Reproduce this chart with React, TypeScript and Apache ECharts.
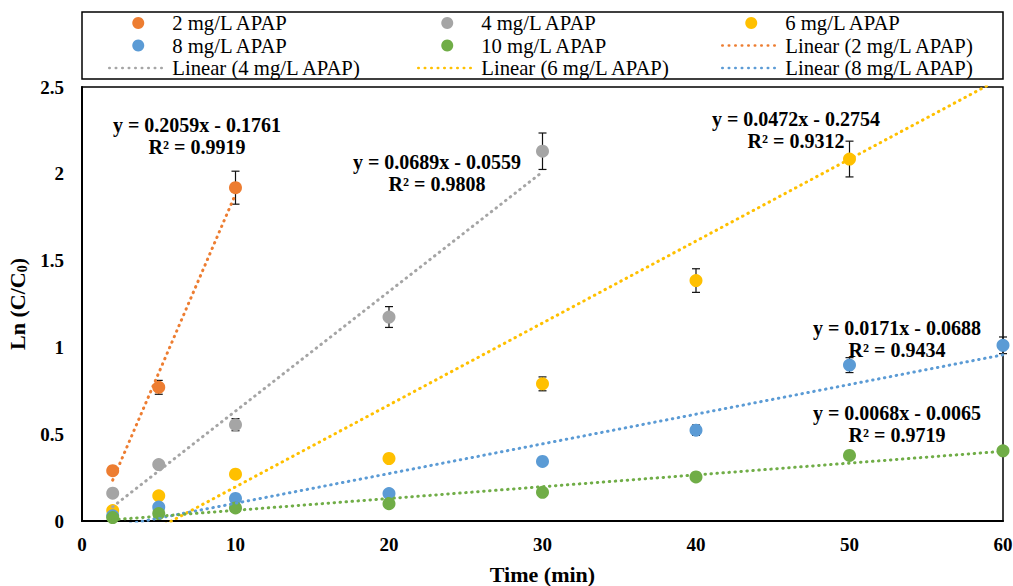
import React, { useEffect, useRef } from "react";
import * as echarts from "echarts";

// Concentration groups, colours (Excel palette)
const seriesNames = ["2 mg/L APAP", "4 mg/L APAP", "6 mg/L APAP", "8 mg/L APAP", "10 mg/L APAP"];
const colors = ["#ED7D31", "#A5A5A5", "#FFC000", "#5B9BD5", "#70AD47"];

// Measurements: time (min), Ln(C/C0), error (±)
const time2 = [2, 5, 10];
const ln2 = [0.29, 0.77, 1.92];
const err2 = [0, 0.04, 0.095];

const time4 = [2, 5, 10, 20, 30];
const ln4 = [0.16, 0.325, 0.555, 1.175, 2.13];
const err4 = [0, 0, 0.035, 0.06, 0.105];

const time6 = [2, 5, 10, 20, 30, 40, 50];
const ln6 = [0.06, 0.145, 0.27, 0.36, 0.79, 1.385, 2.085];
const err6 = [0, 0, 0, 0, 0.04, 0.068, 0.103];

const time8 = [2, 5, 10, 20, 30, 40, 50, 60];
const ln8 = [0.03, 0.08, 0.13, 0.158, 0.343, 0.523, 0.898, 1.012];
const err8 = [0, 0, 0, 0, 0, 0.03, 0.043, 0.048];

const time10 = [2, 5, 10, 20, 30, 40, 50, 60];
const ln10 = [0.02, 0.043, 0.075, 0.1, 0.165, 0.254, 0.378, 0.404];
const err10 = [0, 0, 0, 0, 0, 0, 0, 0];

// Linear fits y = slope * x + intercept
const slopes = [0.2059, 0.0689, 0.0472, 0.0171, 0.0068];
const intercepts = [-0.1761, -0.0559, -0.2754, -0.0688, -0.0065];
const rSquared = ["0.9919", "0.9808", "0.9312", "0.9434", "0.9719"];
const fitStart = [2, 2, 2, 2, 2];
const fitEnd = [10, 30, 60, 60, 60];

// Axis ticks
const xTicks = { min: 0, max: 60, interval: 10 };
const yTicks = { min: 0, max: 2.5, interval: 0.5 };

// Equation label anchors (pixel centres)
const eqAnchors = [
  [197, 136],
  [437, 172.5],
  [796, 130],
  [897, 338.5],
  [897, 424],
];

const legendColumns = [
  ["2 mg/L APAP", "8 mg/L APAP", "Linear (4 mg/L APAP)"],
  ["4 mg/L APAP", "10 mg/L APAP", "Linear (6 mg/L APAP)"],
  ["6 mg/L APAP", "Linear (2 mg/L APAP)", "Linear (8 mg/L APAP)"],
];
const legendLefts = [108, 417, 721];

const FONT = "'Liberation Serif', 'Times New Roman', serif";

const groups = [
  { t: time2, v: ln2, e: err2 },
  { t: time4, v: ln4, e: err4 },
  { t: time6, v: ln6, e: err6 },
  { t: time8, v: ln8, e: err8 },
  { t: time10, v: ln10, e: err10 },
];

function fmt(n: number) {
  return Math.abs(n).toFixed(4);
}

export default function App() {
  const ref = useRef<HTMLDivElement>(null);

  useEffect(() => {
    if (!ref.current) return;
    const chart = echarts.init(ref.current, undefined, { renderer: "svg" });

    const scatterSeries = groups.map((g, i) => ({
      name: seriesNames[i],
      type: "scatter",
      data: g.t.map((x, k) => [x, g.v[k]]),
      symbol: "circle",
      symbolSize: 13,
      itemStyle: { color: colors[i], opacity: 1 },
      z: 3 + i * 0.01,
    }));

    const errorSeries = groups.map((g, i) => ({
      name: "err-" + seriesNames[i],
      type: "custom",
      data: g.t.map((x, k) => [x, g.v[k], g.e[k]]).filter((d) => d[2] > 0),
      encode: { x: 0, y: 1 },
      z: 2,
      silent: true,
      renderItem: (_params: any, api: any) => {
        const x = api.value(0);
        const y = api.value(1);
        const e = api.value(2);
        const top = api.coord([x, y + e]);
        const bot = api.coord([x, y - e]);
        const hw = 4;
        const st = { stroke: "#111", lineWidth: 1.2 };
        return {
          type: "group",
          children: [
            { type: "line", shape: { x1: top[0], y1: top[1], x2: bot[0], y2: bot[1] }, style: st },
            { type: "line", shape: { x1: top[0] - hw, y1: top[1], x2: top[0] + hw, y2: top[1] }, style: st },
            { type: "line", shape: { x1: bot[0] - hw, y1: bot[1], x2: bot[0] + hw, y2: bot[1] }, style: st },
          ],
        };
      },
    }));

    const fitSeries = slopes.map((m, i) => ({
      name: "Linear (" + seriesNames[i] + ")",
      type: "line",
      data: [
        [fitStart[i], m * fitStart[i] + intercepts[i]],
        [fitEnd[i], m * fitEnd[i] + intercepts[i]],
      ],
      symbol: "none",
      clip: true,
      lineStyle: { color: colors[i], width: 3, type: [0.5, 5.5], cap: "round" },
      itemStyle: { color: colors[i] },
      z: 4,
    }));

    const eqTexts = slopes.map((m, i) => ({
      type: "text",
      x: eqAnchors[i][0],
      y: eqAnchors[i][1],
      z: 10,
      style: {
        text:
          "y = " + m.toFixed(4) + "x " + (intercepts[i] < 0 ? "- " : "+ ") + fmt(intercepts[i]) +
          "\nR² = " + rSquared[i],
        fontFamily: FONT,
        fontWeight: "bold",
        fontSize: 20,
        lineHeight: 22,
        fill: "#000",
        align: "center",
        verticalAlign: "middle",
      },
    }));

    const legendItem = (name: string) =>
      name.startsWith("Linear")
        ? {
            name,
            itemStyle: { color: "rgba(0,0,0,0)", opacity: 0, borderWidth: 0 },
            lineStyle: { width: 2.5, type: [0.5, 6], cap: "round" },
          }
        : { name };

    chart.setOption({
      animation: false,
      textStyle: { fontFamily: FONT },
      grid: {
        left: 82,
        right: 10,
        top: 87,
        bottom: 65,
        outerBoundsMode: "none",
        containLabel: false,
        show: true,
        borderColor: "#000",
        borderWidth: 1.5,
      },
      legend: legendColumns.map((data, i) => ({
        data: data.map(legendItem),
        orient: "vertical",
        left: legendLefts[i],
        top: 12,
        padding: 0,
        itemWidth: 58,
        itemHeight: 12,
        itemGap: 0.5,
        selectedMode: false,
        textStyle: { fontFamily: FONT, fontWeight: "normal", fontSize: 20.7, color: "#000", lineHeight: 22 },
      })),
      xAxis: {
        type: "value",
        ...xTicks,
        name: "Time (min)",
        nameLocation: "middle",
        nameGap: 42,
        nameTextStyle: { fontFamily: FONT, fontWeight: "bold", fontSize: 22, color: "#000", lineHeight: 22 },
        axisLine: { show: true, lineStyle: { color: "#000", width: 2 } },
        axisTick: { show: false },
        splitLine: { show: false },
        axisLabel: { fontFamily: FONT, fontWeight: "bold", fontSize: 19, color: "#000", margin: 14 },
      },
      yAxis: {
        type: "value",
        ...yTicks,
        name: "Ln (C/C{sub|0})",
        nameLocation: "middle",
        nameGap: 50,
        nameTextStyle: {
          fontFamily: FONT,
          fontWeight: "bold",
          fontSize: 22,
          color: "#000",
          rich: {
            sub: { fontFamily: FONT, fontWeight: "bold", fontSize: 14, color: "#000", verticalAlign: "bottom", padding: [10, 0, 0, 0] },
          },
        },
        axisLine: { show: true, lineStyle: { color: "#000", width: 2 } },
        axisTick: { show: false },
        splitLine: { show: false },
        axisLabel: { fontFamily: FONT, fontWeight: "bold", fontSize: 19, color: "#000", margin: 18 },
      },
      graphic: [
        {
          type: "rect",
          shape: { x: 82, y: 12, width: 921, height: 67 },
          style: { fill: "none", stroke: "#000", lineWidth: 1.5 },
          z: 0,
        },
        ...eqTexts,
      ],
      series: [...errorSeries, ...scatterSeries, ...fitSeries],
    });

    return () => chart.dispose();
  }, []);

  return (
    <div
      ref={ref}
      style={{ position: "fixed", left: 0, top: 0, width: 1013, height: 586, background: "#fff" }}
    />
  );
}
